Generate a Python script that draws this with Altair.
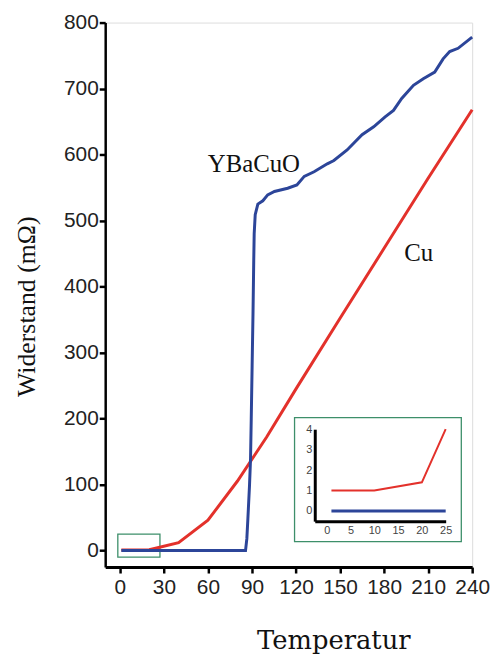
import altair as alt
import pandas as pd

# --- data -------------------------------------------------------------
cu_T = [1, 10, 20, 25, 40, 60, 80, 100, 120, 150, 180, 210, 240]
cu_R = [1, 1, 1.4, 4, 12, 46, 105, 172, 245, 352, 458, 564, 668]

yb_T = [1, 10, 20, 25, 40, 60, 80, 85.6, 86.5, 87.2, 88.3, 89, 89.5, 90.1,
        90.7, 91.2, 91.5, 92.2, 94, 97.4, 100.7, 105.3, 114.3, 120.6, 125.6,
        132.3, 141.3, 145.8, 154.8, 165, 172.9, 180.7, 186.4, 192, 200, 206.7,
        214.5, 220.2, 224.7, 230.4, 240]
yb_R = [0, 0, 0, 0, 0, 0, 0, 0, 18, 48, 98, 138, 200, 280,
        360, 440, 480, 509, 525, 530, 539, 544, 549, 554, 567,
        574, 586, 591, 607, 630, 642, 657, 667, 685, 705, 715,
        725, 745, 756, 761, 778]

label_text = ["YBaCuO", "Cu"]
label_T = [91.3, 203.5]
label_R = [586, 451]

# zoom-region marker box and inset frame (in main data units)
zoom_box = {"T": [-1.4, 27.3], "R": [-10, 25]}
inset_frame = {"T": [119, 232.6], "R": [13.5, 201.5]}

inset_max_T = 25

# --- frames -------------------------------------------------------------
cu = pd.DataFrame({"T": cu_T, "R": cu_R, "s": "Cu"})
yb = pd.DataFrame({"T": yb_T, "R": yb_R, "s": "YBaCuO"})
labels = pd.DataFrame({"T": label_T, "R": label_R, "t": label_text})
boxes = pd.DataFrame({
    "T1": [zoom_box["T"][0], inset_frame["T"][0]],
    "T2": [zoom_box["T"][1], inset_frame["T"][1]],
    "R1": [zoom_box["R"][0], inset_frame["R"][0]],
    "R2": [zoom_box["R"][1], inset_frame["R"][1]],
})

RED = "#e3312b"
BLUE = "#2c4599"
GREEN = "#3d8f6a"

W, H = 370, 549

xs = alt.Scale(domain=[-10, 240], nice=False, zero=False)
ys = alt.Scale(domain=[-25, 800], nice=False, zero=False)

x_axis = alt.Axis(
    values=list(range(0, 241, 15)),
    labelExpr="datum.value % 30 === 0 ? datum.label : ''",
    tickSize={"condition": {"test": "datum.value % 30 === 0", "value": 6}, "value": 3},
    grid=False, domainColor="black", domainWidth=3, tickColor="black", tickWidth=2.5,
    labelFont="Liberation Sans", labelFontSize=21, labelColor="#222", labelPadding=4,
    labelFlush=False, labelOverlap=False,
    title="Temperatur", titleFont="DejaVu Serif", titleFontSize=26, titleFontWeight="normal",
    titleColor="#111", titleX=230, titleY=82, titleBaseline="alphabetic", titleAlign="center",
)
y_axis = alt.Axis(
    values=list(range(0, 801, 50)),
    labelExpr="datum.value % 100 === 0 ? datum.label : ''",
    tickSize={"condition": {"test": "datum.value % 100 === 0", "value": 6}, "value": 3},
    grid=False, domainColor="black", domainWidth=2.5, tickColor="black", tickWidth=2.5,
    labelFont="Liberation Sans", labelFontSize=21, labelColor="#222", labelPadding=1,
    labelFlush=False, labelOverlap=False,
    title="Widerstand (mΩ)", titleFont="Liberation Serif", titleFontSize=26,
    titleFontWeight="normal", titleColor="#111", titleX=-79, titleY=286,
    titleBaseline="middle", titleAlign="center", titleAngle=-90,
)

base_cu = alt.Chart(cu)
base_yb = alt.Chart(yb)

cu_line = base_cu.mark_line(color=RED, strokeWidth=3).encode(
    x=alt.X("T:Q", scale=xs, axis=x_axis),
    y=alt.Y("R:Q", scale=ys, axis=y_axis),
)
yb_line = base_yb.mark_line(color=BLUE, strokeWidth=3).encode(
    x=alt.X("T:Q", scale=xs), y=alt.Y("R:Q", scale=ys)
)
txt = alt.Chart(labels).mark_text(
    font="Liberation Serif", fontSize=25, color="#111", align="center", baseline="middle"
).encode(x=alt.X("T:Q", scale=xs), y=alt.Y("R:Q", scale=ys), text="t:N")
rects = alt.Chart(boxes).mark_rect(
    fill=None, stroke=GREEN, strokeWidth=1.3, fillOpacity=0
).encode(
    x=alt.X("T1:Q", scale=xs), x2="T2:Q",
    y=alt.Y("R1:Q", scale=ys), y2="R2:Q",
)

main = alt.layer(rects, cu_line, yb_line, txt)

# --- inset ----------------------------------------------------------------
ixs = alt.Scale(domain=[-2.5, 25], range=[211.3, 343.3], nice=False, zero=False)
iys = alt.Scale(domain=[-0.5, 4], range=[502.7, 410], nice=False, zero=False)

ix_axis = alt.Axis(
    orient="bottom", offset=-46.3, values=[0, 5, 10, 15, 20, 25], ticks=False,
    grid=False, domainColor="black", domainWidth=3, labelFont="Liberation Sans",
    labelFontSize=11, labelColor="#444", labelPadding=3, title=None, format="d",
    labelFlush=False, labelOverlap=False,
)
iy_axis = alt.Axis(
    orient="left", offset=-211.3, values=[0, 1, 2, 3, 4], ticks=False,
    grid=False, domainColor="black", domainWidth=3, labelFont="Liberation Sans",
    labelFontSize=11, labelColor="#444", labelPadding=3, title=None, format="d",
    labelFlush=False, labelOverlap=False,
)

icu = base_cu.transform_filter(f"datum.T <= {inset_max_T}").mark_line(
    color=RED, strokeWidth=2
).encode(
    x=alt.X("T:Q", scale=ixs, axis=ix_axis),
    y=alt.Y("R:Q", scale=iys, axis=iy_axis),
)
iyb = base_yb.transform_filter(f"datum.T <= {inset_max_T}").mark_line(
    color=BLUE, strokeWidth=3
).encode(
    x=alt.X("T:Q", scale=ixs), y=alt.Y("R:Q", scale=iys)
)
inset = alt.layer(icu, iyb)

chart = alt.layer(main, inset).resolve_scale(
    x="independent", y="independent"
).resolve_axis(
    x="independent", y="independent"
).properties(
    width=W, height=H,
    autosize=alt.AutoSizeParams(type="none"),
    padding={"left": 98, "top": 12, "right": 20, "bottom": 90},
).configure_view(stroke=None).configure(background="white")

chart.save("out.html", embed_options={"renderer": "svg", "actions": False})
